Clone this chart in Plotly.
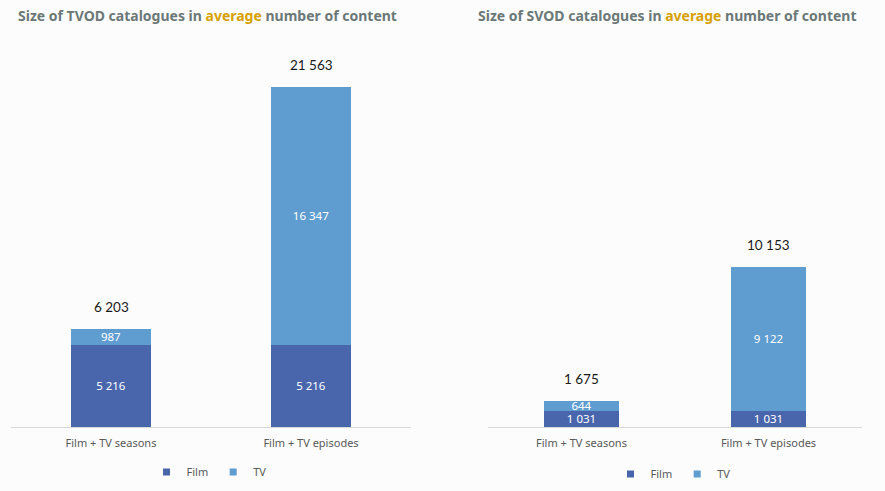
import plotly.graph_objects as go

categorias = ["Film + TV seasons", "Film + TV episodes"]

tvod_film = [5216, 5216]
tvod_tv = [987, 16347]
tvod_total = [6203, 21563]

svod_film = [1031, 1031]
svod_tv = [644, 9122]
svod_total = [1675, 10153]

COR_FILM = "#4966AD"
COR_TV = "#5F9DD1"
FONTE = "Noto Sans"

fig = go.Figure()

def barras(x_ref, y_ref, film, tv, legenda):
    for nome, valores, cor in [("Film", film, COR_FILM), ("TV", tv, COR_TV)]:
        fig.add_trace(go.Bar(
            x=categorias, y=valores, name=nome,
            marker=dict(color=cor, line=dict(width=0)),
            text=valores, texttemplate="%{y:,}",
            textposition="inside", insidetextanchor="middle", textangle=0,
            constraintext="none",
            textfont=dict(color="white", size=11.5, family=FONTE),
            xaxis=x_ref, yaxis=y_ref, showlegend=False,
        ))
        # entrada de legenda com quadrado pequeno, como no original
        fig.add_trace(go.Scatter(
            x=[None], y=[None], mode="markers", name=nome,
            marker=dict(symbol="square", size=7, color=cor),
            xaxis=x_ref, yaxis=y_ref, legend=legenda, hoverinfo="skip",
        ))

barras("x", "y", tvod_film, tvod_tv, "legend")
barras("x2", "y2", svod_film, svod_tv, "legend2")

anotacoes = []
for xref, yref, totais in [("x", "y", tvod_total), ("x2", "y2", svod_total)]:
    for cat, tot in zip(categorias, totais):
        anotacoes.append(dict(
            x=cat, y=tot, xref=xref, yref=yref,
            text=f"{tot:,}".replace(",", " "), showarrow=False,
            yshift=22, font=dict(size=13.5, color="#1a1a1a", family="Lato"),
        ))

titulo = "<b>Size of {} catalogues in <span style='color:#D6A100'>average</span> number of content</b>"
for nome, xc in [("TVOD", 207 / 885), ("SVOD", 667 / 885)]:
    anotacoes.append(dict(
        x=xc, y=1 - 16 / 491, xref="paper", yref="paper",
        text=titulo.format(nome), showarrow=False,
        xanchor="center", yanchor="middle",
        font=dict(size=14, color="#6B7877", family=FONTE),
    ))

eixo_x = dict(showgrid=False, showline=True, linecolor="#D9D9D9", linewidth=1,
              ticks="", ticklabelstandoff=6,
              tickfont=dict(size=11, color="#595959", family=FONTE))
eixo_y = dict(range=[0, 24000], domain=[64 / 491, 0.902], visible=False, showgrid=False)

legenda_base = dict(orientation="h", xanchor="center", yanchor="middle",
                    font=dict(size=11, color="#595959", family=FONTE),
                    traceorder="normal", itemwidth=30, tracegroupgap=0,
                    bgcolor="rgba(0,0,0,0)")

fig.update_layout(
    width=885, height=491,
    margin=dict(l=0, r=0, t=0, b=0, autoexpand=False),
    paper_bgcolor="#FCFCFC", plot_bgcolor="#FCFCFC",
    barmode="stack", bargap=0.6,
    separators=". ",
    xaxis=dict(domain=[11 / 885, 411 / 885], anchor="y", **eixo_x),
    xaxis2=dict(domain=[488 / 885, 862 / 885], anchor="y2", **eixo_x),
    yaxis=dict(anchor="x", **eixo_y),
    yaxis2=dict(anchor="x2", **eixo_y),
    legend=dict(x=209 / 885, y=1 - 472 / 491, **legenda_base),
    legend2=dict(x=673 / 885, y=1 - 474 / 491, **legenda_base),
    annotations=anotacoes,
)

fig.write_html("out.html", config={"displayModeBar": False},
               post_script="document.body.style.margin='0';")
